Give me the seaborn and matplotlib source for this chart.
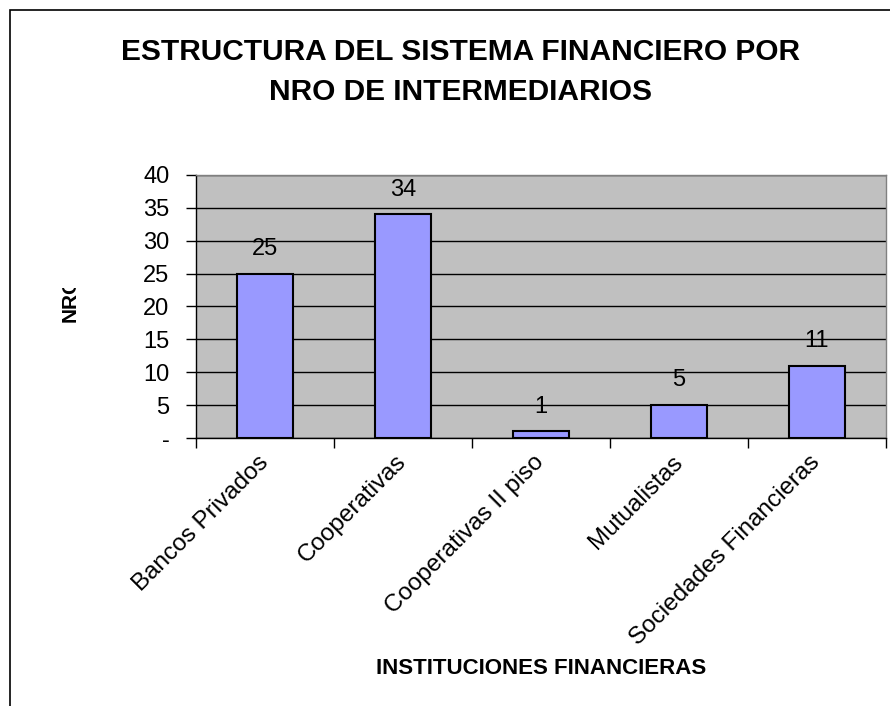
import pandas as pd
import seaborn as sns
import matplotlib.pyplot as plt
from matplotlib.patches import Rectangle
from matplotlib.transforms import Bbox, TransformedBbox

# Datos
instituciones = ['Bancos Privados', 'Cooperativas', 'Cooperativas II piso',
                 'Mutualistas', 'Sociedades Financieras']
nro = [25, 34, 1, 5, 11]
y_ticks = [0, 5, 10, 15, 20, 25, 30, 35, 40]
y_tick_labels = ['-', '5', '10', '15', '20', '25', '30', '35', '40']


def main():
    df = pd.DataFrame({'institucion': instituciones, 'nro': nro})

    sns.set_style('white')
    plt.rcParams['font.family'] = ['Liberation Sans', 'DejaVu Sans']
    plt.rcParams['text.color'] = 'black'
    plt.rcParams['xtick.color'] = 'black'
    plt.rcParams['ytick.color'] = 'black'
    plt.rcParams['axes.labelcolor'] = 'black'

    fig = plt.figure(figsize=(8.9, 7.06), dpi=100)
    ax = fig.add_axes([196 / 890, 1 - 438 / 706, 690 / 890, 263 / 706])

    sns.barplot(data=df, x='institucion', y='nro', color='#9999FF',
                edgecolor='black', linewidth=1.5, width=0.41, saturation=1, ax=ax)

    ax.set_facecolor('#C0C0C0')
    ax.set_ylim(0, 40)
    ax.set_xlim(-0.5, len(instituciones) - 0.5)
    ax.set_yticks(y_ticks)
    ax.set_yticklabels(y_tick_labels, fontsize=17)
    ax.yaxis.grid(True, color='black', linewidth=1)
    ax.set_axisbelow(True)

    # ticks del eje x en los limites de categoria
    ax.set_xticks(range(len(instituciones)))
    ax.set_xticklabels(instituciones, rotation=45, ha='right', va='center',
                       rotation_mode='anchor', fontsize=17.5)
    ax.set_xticks([i - 0.5 for i in range(len(instituciones) + 1)], minor=True)
    ax.tick_params(axis='x', which='major', length=0, pad=15)
    ax.tick_params(axis='x', which='minor', length=7, width=1, color='black',
                   direction='out', bottom=True)
    ax.tick_params(axis='y', length=7, width=1, color='black', direction='out',
                   left=True, pad=12)

    for side in ['top', 'right']:
        ax.spines[side].set_color('#808080')
        ax.spines[side].set_linewidth(1)
    for side in ['left', 'bottom']:
        ax.spines[side].set_color('black')
        ax.spines[side].set_linewidth(1)

    for i, v in enumerate(nro):
        ax.annotate(str(v), (i, v), xytext=(0, 10), textcoords='offset points',
                    ha='center', va='bottom', fontsize=17)

    ax.set_xlabel('INSTITUCIONES FINANCIERAS', fontsize=16, fontweight='bold')
    ax.xaxis.set_label_coords(541 / 890, 1 - 668 / 706, transform=fig.transFigure)
    ax.xaxis.label.set_va('center')

    ylab = ax.set_ylabel('NRO', fontsize=15, fontweight='bold')
    ax.yaxis.set_label_coords(70 / 890, 1 - 299 / 706, transform=fig.transFigure)
    ax.yaxis.label.set_va('center')
    ylab.set_clip_on(True)
    ylab.set_clip_box(TransformedBbox(Bbox([[0, 0], [1, 1 - 288 / 706]]),
                                      fig.transFigure))

    fig.text(460 / 890, 1 - 72 / 706,
             'ESTRUCTURA DEL SISTEMA FINANCIERO POR\nNRO DE INTERMEDIARIOS',
             ha='center', va='center', fontsize=21.5, fontweight='bold',
             linespacing=1.55)

    # marco del grafico
    fig.patches.append(Rectangle((10 / 890, -0.1), 1.2, 1.1 - 10 / 706,
                                 transform=fig.transFigure, fill=False,
                                 edgecolor='black', linewidth=1.2))

    fig.savefig('out.png', dpi=100)
    plt.close(fig)


if __name__ == '__main__':
    main()
